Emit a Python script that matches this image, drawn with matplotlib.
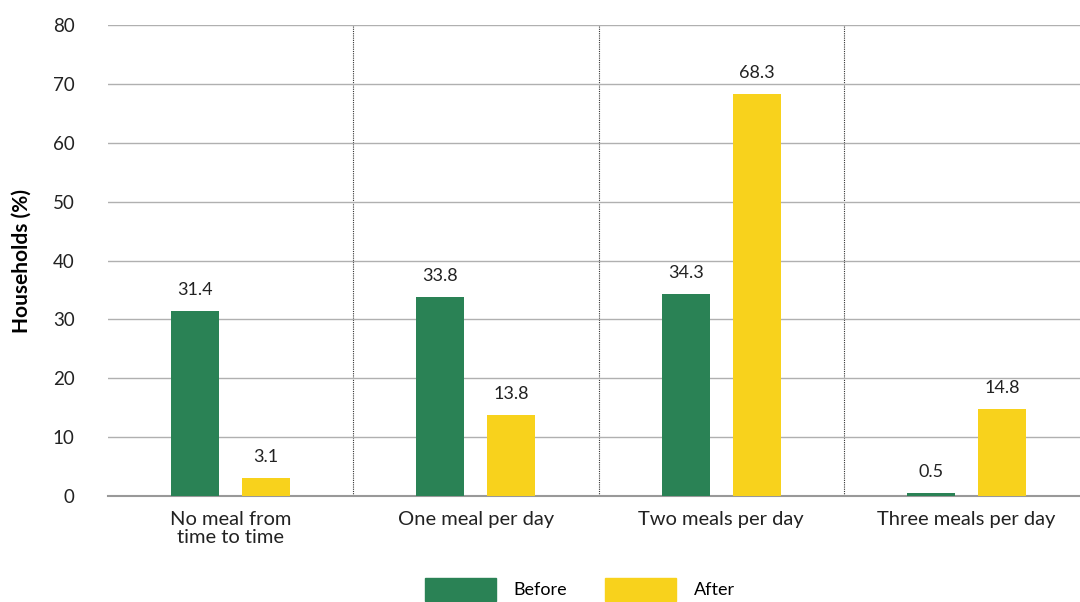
import matplotlib
matplotlib.use("Agg")
import matplotlib.pyplot as plt
import numpy as np
from matplotlib.patches import Patch

categories = ["No meal from\ntime to time", "One meal per day", "Two meals per day", "Three meals per day"]
before = [31.4, 33.8, 34.3, 0.5]
after = [3.1, 13.8, 68.3, 14.8]
yticks = [0, 10, 20, 30, 40, 50, 60, 70, 80]

green = "#2a8255"
yellow = "#f8d21c"

plt.rcParams['font.family'] = ['Lato', 'DejaVu Sans']

fig = plt.figure(figsize=(10.8, 6.02), dpi=100)
# axes run a little past the right edge, like the original
ax = fig.add_axes([108/1080, (602-496)/602, 981/1080, (496-25)/602])

x = np.arange(len(categories))
w = 0.196
off = 0.145
ax.bar(x - off, before, w, color=green, zorder=3)
ax.bar(x + off, after, w, color=yellow, zorder=3)

for xi, v in zip(x - off, before):
    ax.text(xi, v + 2.2, f"{v}", ha="center", va="bottom", fontsize=13, color="#222222")
for xi, v in zip(x + off, after):
    ax.text(xi, v + 2.2, f"{v}", ha="center", va="bottom", fontsize=13, color="#222222")

ax.set_xlim(-0.5, 3.5)
ax.set_ylim(0, 80)
ax.set_yticks(yticks)
ax.set_yticklabels([str(t) for t in yticks], fontsize=13.5, color="#222222")
ax.set_xticks(x)
ax.set_xticklabels(categories, fontsize=14.5, color="#222222", linespacing=1.05)
ax.tick_params(axis="both", length=0)
ax.tick_params(axis="y", pad=24)
ax.tick_params(axis="x", pad=11)

ax.yaxis.grid(True, color="#b0b0b0", linewidth=1, zorder=0)
for b in [0.5, 1.5, 2.5]:
    ax.axvline(b, color="#333333", linestyle=(0, (1, 1)), linewidth=0.8, zorder=1)

for s in ["top", "right", "left"]:
    ax.spines[s].set_visible(False)
ax.spines["bottom"].set_color("#999999")
ax.spines["bottom"].set_linewidth(1.5)

ax.set_ylabel("Households (%)", fontsize=15, fontweight="bold")
ax.yaxis.set_label_coords(-0.078, 0.5)

handles = [Patch(color=green, label="Before"), Patch(color=yellow, label="After")]
fig.legend(handles=handles, loc="lower center", bbox_to_anchor=(0.537, -0.025), ncol=2,
           frameon=False, fontsize=13, handlelength=3.9, handleheight=1.6,
           columnspacing=2.1, handletextpad=1.0)

fig.savefig("out.png", dpi=100)
